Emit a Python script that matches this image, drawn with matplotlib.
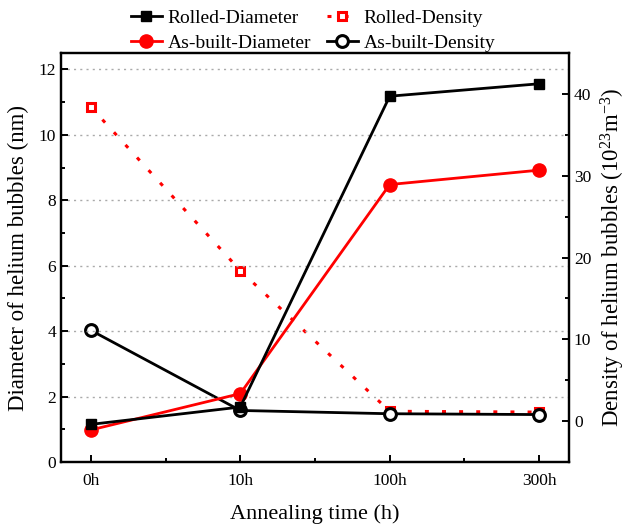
import matplotlib
matplotlib.use("Agg")
import matplotlib.pyplot as plt
from matplotlib.ticker import MultipleLocator

plt.rcParams['font.family'] = ['Liberation Serif', 'DejaVu Serif']
plt.rcParams['mathtext.fontset'] = 'custom'
plt.rcParams['mathtext.rm'] = 'Liberation Serif'
plt.rcParams['mathtext.it'] = 'Liberation Serif:italic'
plt.rcParams['mathtext.default'] = 'regular'

categories = ["0h", "10h", "100h", "300h"]
rolled_diameter = [1.15, 1.68, 11.18, 11.56]
asbuilt_diameter = [0.98, 2.09, 8.48, 8.92]
rolled_density = [38.4, 18.4, 1.2, 1.1]
asbuilt_density = [11.1, 1.3, 0.9, 0.8]

x = list(range(len(categories)))

fig = plt.figure(figsize=(6.26, 5.28), dpi=100)
ax = fig.add_axes([0.0974, 0.125, 0.8116, 0.7746])
ax2 = ax.twinx()

lw = 2.0
h1, = ax.plot(x, rolled_diameter, color='black', lw=lw, marker='s', ms=7.5,
              label='Rolled-Diameter', zorder=5)
h2, = ax.plot(x, asbuilt_diameter, color='red', lw=lw, marker='o', ms=9.5,
              label='As-built-Diameter', zorder=4)
h3, = ax2.plot(x, rolled_density, color='red', lw=2.2, ls=(0, (1.3, 4.3)), marker='s', ms=6,
               mfc='white', mec='red', mew=2.2, label='Rolled-Density', zorder=4)
h4, = ax2.plot(x, asbuilt_density, color='black', lw=lw, marker='o', ms=8.5,
               mfc='white', mec='black', mew=2.2, label='As-built-Density', zorder=5)

ax.set_xlim(-0.2, 3.2)
ax.set_ylim(0, 12.5)
ax2.set_ylim(-5, 45)
ax.set_xticks(x)
ax.set_xticklabels(categories)
ax.xaxis.set_minor_locator(MultipleLocator(0.5))
ax.yaxis.set_major_locator(MultipleLocator(2))
ax.yaxis.set_minor_locator(MultipleLocator(1))
ax2.yaxis.set_minor_locator(MultipleLocator(5))
ax2.set_yticks([0, 10, 20, 30, 40])

for yv in [2, 4, 6, 8, 10, 12]:
    ax.axhline(yv, color='#aaaaaa', lw=1.0, ls=(0, (1.5, 3)), zorder=0)

for a in (ax, ax2):
    for s in a.spines.values():
        s.set_linewidth(1.6)
    a.tick_params(which='major', direction='in', length=5, width=1.4, labelsize=12.5)
    a.tick_params(which='minor', direction='in', length=3, width=1.4)
ax.tick_params(axis='x', which='both', top=False, pad=8)
ax.tick_params(axis='y', which='both', right=False)
ax2.tick_params(axis='y', which='both', left=False)

ax.set_xlabel('Annealing time (h)', fontsize=16, labelpad=11)
ax.set_ylabel('Diameter of helium bubbles (nm)', fontsize=16.5)
ax2.set_ylabel('Density of helium bubbles (10$^{23}$m$^{-3}$)', fontsize=16.5)
ax.yaxis.set_label_coords(-0.062, 0.5)
ax2.yaxis.set_label_coords(1.058, 0.5)

ax.set_zorder(ax2.get_zorder() + 1)
ax.patch.set_visible(False)

fig.legend(handles=[h1, h2, h3, h4], loc='upper center', bbox_to_anchor=(0.5, 1.005),
           ncol=2, frameon=False, fontsize=14, handlelength=1.6, handletextpad=0.3,
           columnspacing=0.8, labelspacing=0.4, borderaxespad=0.2)

fig.savefig('out.png', dpi=100)
